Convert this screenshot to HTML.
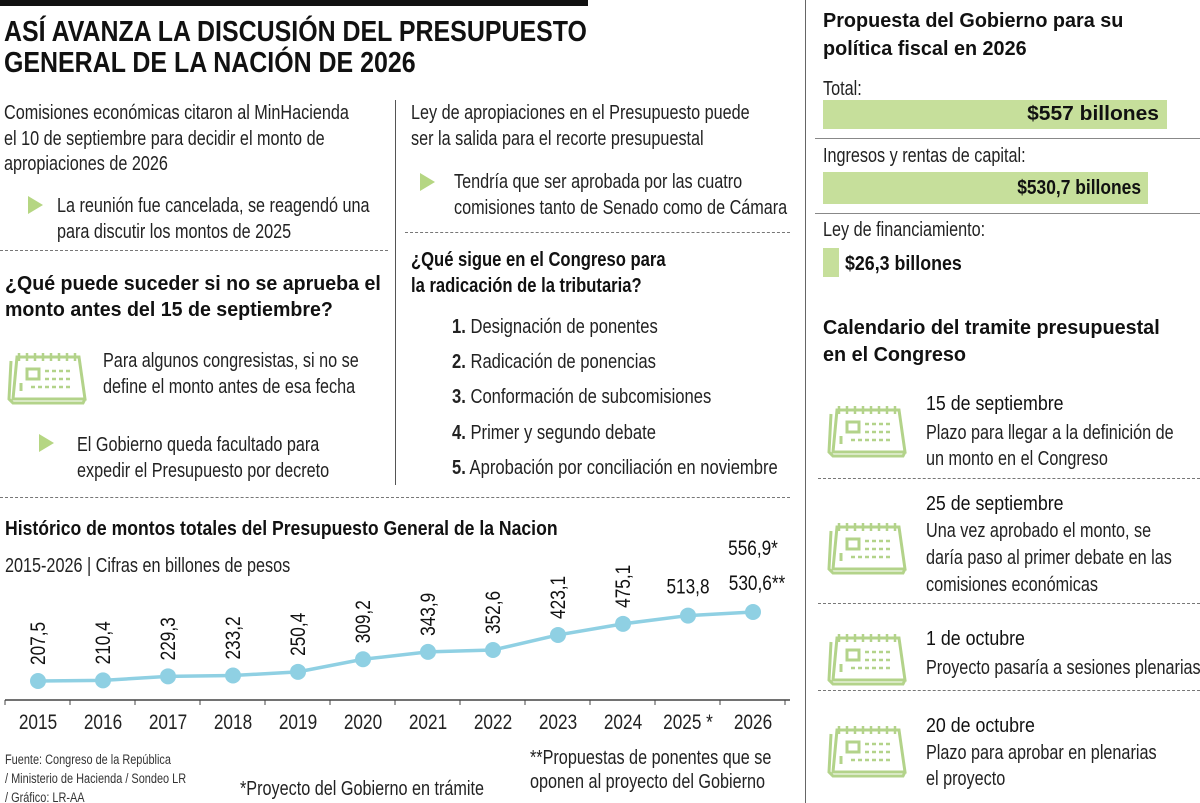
<!DOCTYPE html>
<html><head><meta charset="utf-8">
<style>
body{margin:0;background:#fff;}
#root{position:relative;width:1200px;height:803px;overflow:hidden;background:#fff;font-family:"Liberation Sans",sans-serif;color:#222;}
.t{position:absolute;white-space:nowrap;font-size:20px;line-height:26px;transform:scaleX(0.81);transform-origin:0 0;}
.h{position:absolute;white-space:nowrap;font-weight:bold;font-size:20px;line-height:26px;color:#111;transform:scaleX(0.81);transform-origin:0 0;}
.r{transform-origin:100% 0;}
.arrow{position:absolute;width:0;height:0;border-top:9px solid transparent;border-bottom:9px solid transparent;border-left:15px solid #b5d682;}
.dash{position:absolute;height:0;border-top:1.5px dashed #777;}
.cal{position:absolute;width:82px;height:62px;}
</style></head><body>
<div id="root">
<div style="position:absolute;left:0;top:0;width:588px;height:6px;background:#111"></div>
<div class="h" style="left:4px;top:17px;font-size:29px;line-height:31px;transform:scaleX(0.86)">ASÍ AVANZA LA DISCUSIÓN DEL PRESUPUESTO<br>GENERAL DE LA NACIÓN DE 2026</div>

<div class="t" style="left:4px;top:101px;line-height:25.5px">Comisiones económicas citaron al MinHacienda<br>el 10 de septiembre para decidir el monto de<br>apropiaciones de 2026</div>
<div class="arrow" style="left:28px;top:196px"></div>
<div class="t" style="left:57px;top:194px;line-height:25.5px">La reunión fue cancelada, se reagendó una<br>para discutir los montos de 2025</div>
<div class="dash" style="left:0;top:250px;width:388px"></div>
<div class="h" style="left:5px;top:271px;line-height:26px;transform:scaleX(0.98)">¿Qué puede suceder si no se aprueba el<br>monto antes del 15 de septiembre?</div>
<div class="cal" style="left:7px;top:347px"></div>
<div class="t" style="left:103px;top:348px;line-height:26px">Para algunos congresistas, si no se<br>define el monto antes de esa fecha</div>
<div class="arrow" style="left:39px;top:434px"></div>
<div class="t" style="left:77px;top:432px;line-height:26px">El Gobierno queda facultado para<br>expedir el Presupuesto por decreto</div>

<div style="position:absolute;left:395px;top:100px;width:1px;height:385px;background:#555"></div>
<div class="t" style="left:411px;top:101px;line-height:25.5px">Ley de apropiaciones en el Presupuesto puede<br>ser la salida para el recorte presupuestal</div>
<div class="arrow" style="left:420px;top:173px"></div>
<div class="t" style="left:454px;top:169px;line-height:26px">Tendría que ser aprobada por las cuatro<br>comisiones tanto de Senado como de Cámara</div>
<div class="dash" style="left:405px;top:232px;width:385px"></div>
<div class="h" style="left:411px;top:247px;line-height:26px;transform:scaleX(0.83)">¿Qué sigue en el Congreso para<br>la radicación de la tributaria?</div>
<div class="t" style="left:452px;top:314px;transform:scaleX(0.83)"><b>1.</b> Designación de ponentes</div>
<div class="t" style="left:452px;top:349px;transform:scaleX(0.83)"><b>2.</b> Radicación de ponencias</div>
<div class="t" style="left:452px;top:384px;transform:scaleX(0.83)"><b>3.</b> Conformación de subcomisiones</div>
<div class="t" style="left:452px;top:420px;transform:scaleX(0.83)"><b>4.</b> Primer y segundo debate</div>
<div class="t" style="left:452px;top:455px;transform:scaleX(0.83)"><b>5.</b> Aprobación por conciliación en noviembre</div>
<div class="dash" style="left:0;top:497px;width:790px"></div>

<div class="h" style="left:5px;top:516px;transform:scaleX(0.88)">Histórico de montos totales del Presupuesto General de la Nacion</div>
<div class="t" style="left:5px;top:553px">2015-2026 | Cifras en billones de pesos</div>
<svg id="chart" style="position:absolute;left:0;top:0" width="800" height="803"></svg>

<div class="t" style="left:5px;top:750px;font-size:13.5px;line-height:19px;color:#333">Fuente: Congreso de la República<br>/ Ministerio de Hacienda / Sondeo LR<br>/ Gráfico: LR-AA</div>
<div class="t" style="left:240px;top:776px">*Proyecto del Gobierno en trámite</div>
<div class="t" style="left:530px;top:746px;line-height:24px">**Propuestas de ponentes que se<br>oponen al proyecto del Gobierno</div>

<div style="position:absolute;left:805px;top:0;width:1px;height:803px;background:#666"></div>
<div class="h" style="left:823px;top:7px;line-height:28px;transform:scaleX(0.99)">Propuesta del Gobierno para su<br>política fiscal en 2026</div>
<div class="t" style="left:823px;top:76px">Total:</div>
<div style="position:absolute;left:823px;top:100px;width:344px;height:29px;background:#c6df9b"></div>
<div class="h r" style="left:823px;width:336px;text-align:right;top:101px;transform:scaleX(1.05)">$557 billones</div>
<div style="position:absolute;left:815px;top:138px;width:385px;height:1px;background:#888"></div>
<div class="t" style="left:823px;top:143px">Ingresos y rentas de capital:</div>
<div style="position:absolute;left:823px;top:172px;width:325px;height:32px;background:#c6df9b"></div>
<div class="h r" style="left:823px;width:318px;text-align:right;top:175px;transform:scaleX(0.87)">$530,7 billones</div>
<div style="position:absolute;left:815px;top:213px;width:385px;height:1px;background:#888"></div>
<div class="t" style="left:823px;top:217px">Ley de financiamiento:</div>
<div style="position:absolute;left:823px;top:248px;width:16px;height:29px;background:#c6df9b"></div>
<div class="h" style="left:845px;top:251px;transform:scaleX(0.89)">$26,3 billones</div>

<div class="h" style="left:823px;top:315px;line-height:27px;transform:scaleX(0.99)">Calendario del tramite presupuestal<br>en el Congreso</div>
<div class="cal" style="left:827px;top:400px"></div>
<div class="h" style="left:926px;top:391px;font-weight:normal;color:#111;transform:scaleX(0.89)">15 de septiembre</div>
<div class="t" style="left:926px;top:420px;line-height:26px">Plazo para llegar a la definición de<br>un monto en el Congreso</div>
<div class="dash" style="left:818px;top:478px;width:382px"></div>
<div class="cal" style="left:827px;top:517px"></div>
<div class="h" style="left:926px;top:491px;font-weight:normal;color:#111;transform:scaleX(0.89)">25 de septiembre</div>
<div class="t" style="left:926px;top:518px;line-height:27px">Una vez aprobado el monto, se<br>daría paso al primer debate en las<br>comisiones económicas</div>
<div class="dash" style="left:818px;top:603px;width:382px"></div>
<div class="cal" style="left:827px;top:628px"></div>
<div class="h" style="left:926px;top:626px;font-weight:normal;color:#111;transform:scaleX(0.89)">1 de octubre</div>
<div class="t" style="left:926px;top:655px">Proyecto pasaría a sesiones plenarias</div>
<div class="dash" style="left:818px;top:690px;width:382px"></div>
<div class="cal" style="left:827px;top:720px"></div>
<div class="h" style="left:926px;top:713px;font-weight:normal;color:#111;transform:scaleX(0.89)">20 de octubre</div>
<div class="t" style="left:926px;top:740px;line-height:26px">Plazo para aprobar en plenarias<br>el proyecto</div>
</div>
<script>
const years=["2015","2016","2017","2018","2019","2020","2021","2022","2023","2024","2025 *","2026"];
const values=[207.5,210.4,229.3,233.2,250.4,309.2,343.9,352.6,423.1,475.1,513.8,530.6];
const valueLabels=["207,5","210,4","229,3","233,2","250,4","309,2","343,9","352,6","423,1","475,1","513,8","530,6**"];
const extraLabel="556,9*";
const NS="http://www.w3.org/2000/svg";
const svg=document.getElementById('chart');
const xs=i=>38+i*65;
const ys=v=>681-(v-207.5)*0.2136;
const FF='Liberation Sans, sans-serif';
function mk(tag,attrs){const e=document.createElementNS(NS,tag);for(const k in attrs)e.setAttribute(k,attrs[k]);svg.appendChild(e);return e;}
const ax=mk('line',{x1:5,y1:700,x2:790,y2:700,stroke:'#444','stroke-width':1.5});


for(let i=0;i<=years.length;i++){const tx=i===0?5:(xs(i-1)+32);const tk=mk('line',{x1:tx,y1:700,x2:tx,y2:705,stroke:'#444'});

}
const pts=values.map((v,i)=>xs(i)+','+ys(v)).join(' ');
const ln=mk('polyline',{points:pts,fill:'none',stroke:'#8fd0e3','stroke-width':3.5});


values.forEach((v,i)=>{
 const x=xs(i),y=ys(v);
 const c=mk('circle',{cx:x,cy:y,r:8,fill:'#8fd0e3'});
 
 
 let t;
 if(i<10){t=mk('text',{x:0,y:0,transform:`translate(${x+7} ${y-16}) rotate(-90) scale(0.82 1)`,'font-size':21,'font-family':FF,fill:'#111'});}
 else{t=mk('text',{x:0,y:0,transform:`translate(${x+(i===11?4:0)} ${y-22}) scale(0.82 1)`,'text-anchor':'middle','font-size':21,'font-family':FF,fill:'#111'});}
 t.textContent=valueLabels[i];
 
 
 const yl=mk('text',{x:0,y:0,transform:`translate(${x} 729) scale(0.82 1)`,'text-anchor':'middle','font-size':21,'font-family':FF,fill:'#222'});
 yl.textContent=years[i];
 
 
});
const ex=mk('text',{x:0,y:0,transform:`translate(${xs(11)} ${ys(values[11])-57}) scale(0.82 1)`,'text-anchor':'middle','font-size':21,'font-family':FF,fill:'#111'});
ex.textContent=extraLabel;


const calSvg='<svg width="82" height="62" viewBox="0 0 82 62" fill="none" stroke="#b3d38a" stroke-width="3"><path d="M10 10 H72 L78 52 H6 Z"/><path d="M4 14 L2 52 L6 56 H76 L78 52"/><path d="M12 6 v8 M20 6 v8 M28 6 v8 M36 6 v8 M44 6 v8 M52 6 v8 M60 6 v8 M68 6 v8" stroke-width="2.5"/><rect x="20" y="22" width="12" height="10"/><path d="M38 24 h28 M38 32 h28 M24 40 h42" stroke-dasharray="4 3" stroke-width="2.5"/><path d="M14 36 v8"/></svg>';
document.querySelectorAll('.cal').forEach(e=>e.innerHTML=calSvg);
</script>
</body></html>
